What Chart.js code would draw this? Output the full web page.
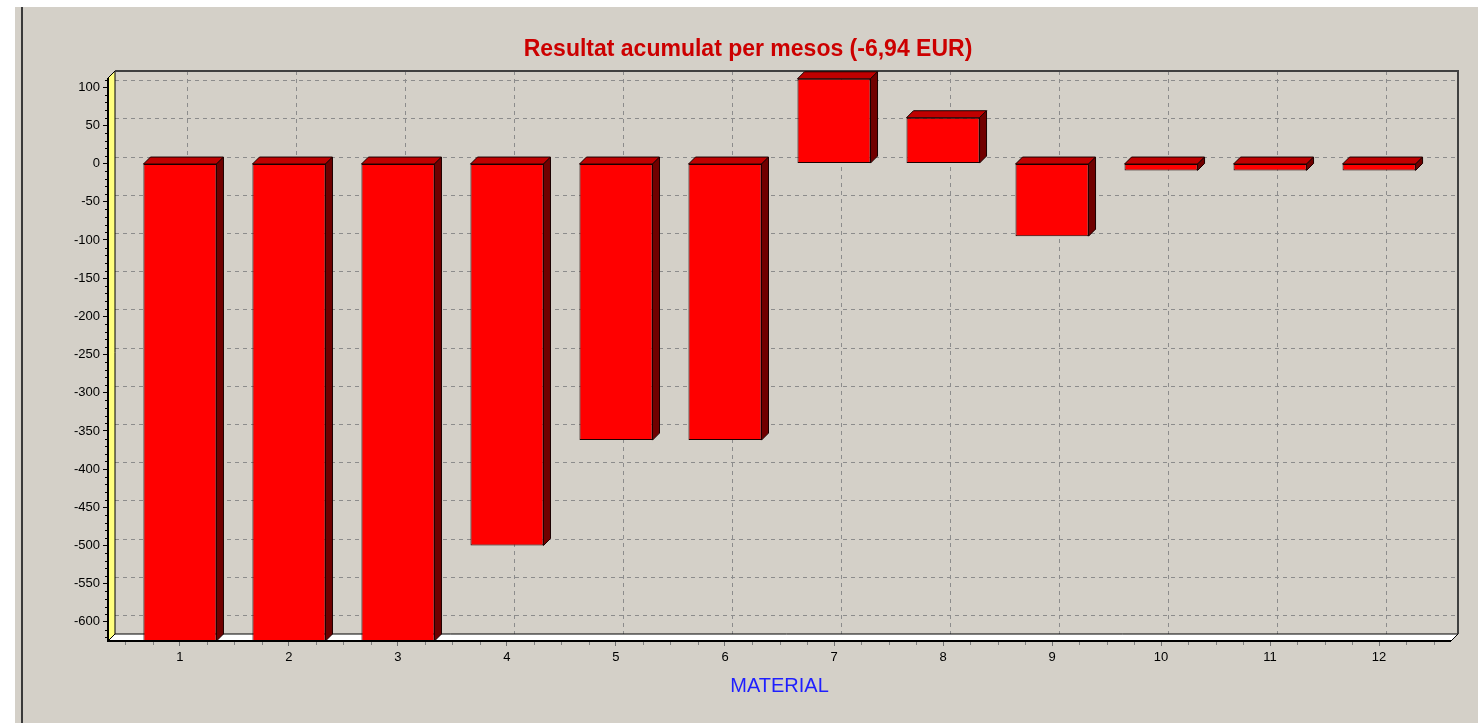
<!DOCTYPE html>
<html lang="ca">
<head>
    <meta charset="UTF-8">
    <title>Resultat acumulat per mesos</title>
    <script src="https://cdn.jsdelivr.net/npm/chart.js@4"></script>
    <style>
        html, body { margin: 0; padding: 0; background: #fff; overflow: hidden; }
        canvas { display: block; }
    </style>
</head>
<body>
    <canvas id="grafic" width="1478" height="723"></canvas>
<script>
    // dades llegides del gràfic
    const categories = ['1', '2', '3', '4', '5', '6', '7', '8', '9', '10', '11', '12'];
    const values = [-625, -625, -625, -500, -362, -362, 111, 60, -95, -9, -9, -9];
    const yTickValues = [100, 50, 0, -50, -100, -150, -200, -250, -300, -350, -400, -450, -500, -550, -600];

    const FONT = 'Arial, "Liberation Sans", sans-serif';
    const D = 7; // profunditat 3D

    // fons gris tipus finestra
    const fonsPlugin = {
        id: 'fons',
        beforeDraw(chart) {
            const c = chart.ctx;
            c.save();
            c.fillStyle = '#fff';
            c.fillRect(0, 0, chart.width, chart.height);
            c.fillStyle = '#d4d0c8';
            c.fillRect(15, 7, chart.width - 15, chart.height - 7);
            c.fillStyle = '#3a3a3a';
            c.fillRect(21, 7, 2, chart.height - 7);
            c.restore();
        }
    };

    // parets, terra, graella i cares 3D de les barres
    const marc3D = {
        id: 'marc3D',
        beforeDatasetsDraw(chart) {
            const c = chart.ctx;
            const a = chart.chartArea;
            const xs = chart.scales.x, ys = chart.scales.y;
            c.save();

            // graella a la paret del fons
            c.save();
            c.beginPath();
            c.rect(a.left + D, a.top - D, a.right - a.left, a.bottom - a.top);
            c.clip();
            c.strokeStyle = '#8c8c8c';
            c.lineWidth = 1;
            c.setLineDash([4, 4]);
            yTickValues.forEach(v => {
                const y = Math.round(ys.getPixelForValue(v) - D) + 0.5;
                c.beginPath();
                c.moveTo(a.left + D, y);
                c.lineTo(a.right + D, y);
                c.stroke();
            });
            categories.forEach((cat, i) => {
                const x = Math.round(xs.getPixelForValue(i + 1) + D) + 0.5;
                c.beginPath();
                c.moveTo(x, a.top - D);
                c.lineTo(x, a.bottom - D);
                c.stroke();
            });
            c.restore();

            // paret esquerra groga
            c.beginPath();
            c.moveTo(a.left, a.bottom);
            c.lineTo(a.left, a.top);
            c.lineTo(a.left + D, a.top - D);
            c.lineTo(a.left + D, a.bottom - D);
            c.closePath();
            c.fillStyle = '#ffff80';
            c.fill();
            c.strokeStyle = '#000';
            c.lineWidth = 1;
            c.stroke();

            // terra blanc
            c.beginPath();
            c.moveTo(a.left, a.bottom);
            c.lineTo(a.left + D, a.bottom - D);
            c.lineTo(a.right + D, a.bottom - D);
            c.lineTo(a.right, a.bottom);
            c.closePath();
            c.fillStyle = '#fff';
            c.fill();
            c.stroke();

            // vora de la paret del fons
            c.strokeStyle = '#404040';
            c.lineWidth = 2;
            c.beginPath();
            c.moveTo(a.left + D, a.top - D);
            c.lineTo(a.right + D, a.top - D);
            c.lineTo(a.right + D, a.bottom - D);
            c.stroke();

            c.restore();
        },
        afterDatasetsDraw(chart) {
            const c = chart.ctx;
            const a = chart.chartArea;
            const xs = chart.scales.x, ys = chart.scales.y;
            c.save();
            c.lineWidth = 1;
            c.strokeStyle = '#1a0000';

            chart.getDatasetMeta(0).data.forEach(bar => {
                const p = bar.getProps(['x', 'y', 'base', 'width'], true);
                const l = p.x - p.width / 2, r = p.x + p.width / 2;
                const t = Math.min(p.y, p.base), b = Math.max(p.y, p.base);

                // cara de dalt
                c.beginPath();
                c.moveTo(l, t);
                c.lineTo(l + D, t - D);
                c.lineTo(r + D, t - D);
                c.lineTo(r, t);
                c.closePath();
                c.fillStyle = '#c00000';
                c.fill();
                c.stroke();

                // cara lateral
                c.beginPath();
                c.moveTo(r, t);
                c.lineTo(r + D, t - D);
                c.lineTo(r + D, b - D);
                c.lineTo(r, b);
                c.closePath();
                c.fillStyle = '#700000';
                c.fill();
                c.stroke();
            });

            // eixos
            c.strokeStyle = '#000';
            c.lineWidth = 2;
            c.beginPath();
            c.moveTo(a.left, a.top);
            c.lineTo(a.left, a.bottom);
            c.lineTo(a.right, a.bottom);
            c.stroke();

            // marques menors
            c.lineWidth = 1;
            c.strokeStyle = '#000';
            for (let v = -620; v <= 110; v += 10) {
                if (v % 50 === 0) continue;
                const y = Math.round(ys.getPixelForValue(v)) + 0.5;
                c.beginPath();
                c.moveTo(a.left - 3, y);
                c.lineTo(a.left - 1, y);
                c.stroke();
            }
            c.strokeStyle = '#808080';
            for (let v = 0.5; v <= 12.5; v += 0.25) {
                if (v % 1 === 0) continue;
                const x = Math.round(xs.getPixelForValue(v)) + 0.5;
                c.beginPath();
                c.moveTo(x, a.bottom + 1);
                c.lineTo(x, a.bottom + 4);
                c.stroke();
            }
            c.restore();
        }
    };

    const ctx = document.getElementById('grafic').getContext('2d');

    const grafic = new Chart(ctx, {
        type: 'bar',
        data: {
            datasets: [{
                data: categories.map((cat, i) => ({ x: i + 1, y: values[i] })),
                backgroundColor: '#ff0000',
                borderColor: '#1a0000',
                borderWidth: 1,
                borderSkipped: false,
                barPercentage: 0.67,
                categoryPercentage: 1
            }]
        },
        options: {
            responsive: false,
            animation: false,
            events: [],
            layout: { padding: { top: 7, right: 27, bottom: 0, left: 45 } },
            plugins: {
                legend: { display: false },
                tooltip: { enabled: false },
                title: {
                    display: true,
                    text: 'Resultat acumulat per mesos (-6,94 EUR)',
                    color: '#cc0000',
                    font: { family: FONT, size: 23, weight: 'bold', lineHeight: 1.2 },
                    padding: { top: 28.4, bottom: 15 }
                }
            },
            scales: {
                x: {
                    type: 'linear',
                    offset: false,
                    min: 0.34,
                    max: 12.66,
                    afterBuildTicks: axis => { axis.ticks = categories.map((cat, i) => ({ value: i + 1 })); },
                    afterFit: axis => { axis.height = 82; },
                    grid: { offset: false, drawOnChartArea: false, drawTicks: true, tickLength: 5, tickColor: '#707070' },
                    border: { display: false },
                    ticks: {
                        autoSkip: false,
                        maxRotation: 0,
                        padding: 4,
                        color: '#000',
                        font: { family: FONT, size: 13 },
                        callback: value => categories[value - 1]
                    },
                    title: {
                        display: true,
                        text: 'MATERIAL',
                        color: '#1f1fff',
                        font: { family: FONT, size: 20 },
                        padding: { top: 25, bottom: 25 }
                    }
                },
                y: {
                    min: -625,
                    max: 112,
                    afterBuildTicks: axis => { axis.ticks = yTickValues.map(v => ({ value: v })); },
                    afterFit: axis => { axis.width = 63; },
                    grid: { drawOnChartArea: false, drawTicks: true, tickLength: 5, tickColor: '#000' },
                    border: { display: false },
                    ticks: {
                        autoSkip: false,
                        padding: 3,
                        color: '#000',
                        font: { family: FONT, size: 13 }
                    }
                }
            }
        },
        plugins: [fonsPlugin, marc3D]
    });
</script>
</body>
</html>
